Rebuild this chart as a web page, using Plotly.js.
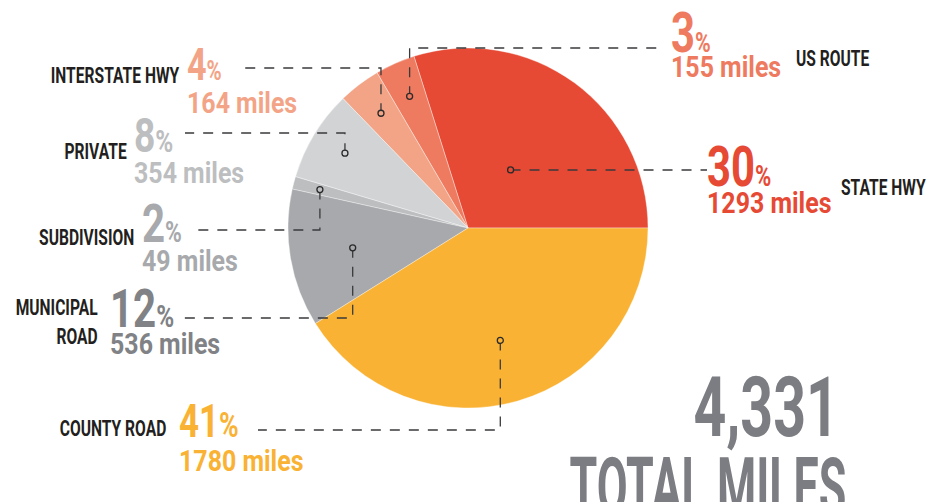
<!DOCTYPE html>
<html><head><meta charset="utf-8">
<script src="https://cdn.plot.ly/plotly-3.0.1.min.js"></script>
<style>html,body{margin:0;padding:0;background:#fff}#chart{width:928px;height:502px}</style>
</head><body><div id="chart"></div>
<script>
// ---- data ----
const categories = ['STATE HWY', 'US ROUTE', 'INTERSTATE HWY', 'PRIVATE', 'SUBDIVISION', 'MUNICIPAL<br>ROAD', 'COUNTY ROAD'];
const miles = [1293, 155, 164, 354, 49, 536, 1780];
const pctLabels = [30, 3, 4, 8, 2, 12, 41];
const totalCaption = 'TOTAL MILES';

// ---- styles ----
const sliceColors = ['#e64a35', '#ee7a5f', '#f3a487', '#d1d3d4', '#bcbec0', '#a7a9ac', '#f9b233'];
const textColors  = ['#e64a35', '#ee7a5f', '#f3a487', '#bcbec0', '#a7a9ac', '#808285', '#f9b233'];
const FONT = 'Roboto, "Liberation Sans", sans-serif';
const W = 928, H = 502, CX = 468, CY = 228, R = 180;
const px = x => x / W, py = y => 1 - y / H;

// label placement (pixels) for each slice, same order as categories
const place = [
  {lx:707, ly:170, f:0.40, tx:708, pctY:167, pctS:55, pS:29, mY:203, catX:842, catY:187, catA:'left'},
  {lx:660, ly:48,  f:0.80, tx:672, pctY:33,  pctS:55, pS:28, mY:67,  catX:797, catY:58,  catA:'left'},
  {lx:237, ly:68,  f:0.80, tx:188, pctY:64,  pctS:45, pS:27, mY:103, catX:178, catY:76,  catA:'right'},
  {lx:185, ly:133, f:0.80, tx:135, pctY:135, pctS:49, pS:32, mY:173, catX:126, catY:152, catA:'right'},
  {lx:193, ly:230, f:0.85, tx:143, pctY:224, pctS:53, pS:30, mY:261, catX:133, catY:237, catA:'right'},
  {lx:183, ly:318, f:0.65, tx:111, pctY:309, pctS:53, pS:32, mY:344, catX:97,  catY:322, catA:'right'},
  {lx:258, ly:430, f:0.65, tx:180, pctY:421, pctS:46, pS:35, mY:461, catX:165, catY:428, catA:'right'}
];

const total = miles.reduce((a, b) => a + b, 0);
const firstDeg = miles[0] / total * 360;

const pie = {
  type: 'pie',
  values: miles,
  labels: categories,
  sort: false,
  direction: 'counterclockwise',
  rotation: 90 - firstDeg,   // first slice begins at 3 o'clock, running counterclockwise
  textinfo: 'none',
  hoverinfo: 'none',
  showlegend: false,
  marker: {colors: sliceColors, line: {color: 'rgba(255,255,255,0.6)', width: 0.6}},
  domain: {x: [px(CX - R), px(CX + R)], y: [py(CY + R), py(CY - R)]}
};

const annotations = [], shapes = [], squeeze = [];
function addAnn(a, s) { annotations.push(a); squeeze.push(s); }
let cum = 0;
miles.forEach((v, i) => {
  const p = place[i];
  const mid = (cum + v / 2) / total * 2 * Math.PI;
  cum += v;
  const dx = CX + p.f * R * Math.cos(mid);
  const dy = CY - p.f * R * Math.sin(mid);
  shapes.push({type: 'path', xref: 'paper', yref: 'paper',
    path: `M ${px(dx)},${py(dy)} L ${px(dx)},${py(p.ly)} L ${px(p.lx)},${py(p.ly)}`,
    line: {color: '#3a3a3c', width: 1.3, dash: '10px,9px'}});
  shapes.push({type: 'circle', xref: 'paper', yref: 'paper', xsizemode: 'pixel', ysizemode: 'pixel',
    xanchor: px(dx), yanchor: py(dy), x0: -3, x1: 3, y0: -3, y1: 3,
    fillcolor: sliceColors[i], line: {color: '#2a2a2a', width: 1.3}});
  addAnn({xref: 'paper', yref: 'paper', x: px(p.tx - 3), y: py(p.pctY), xanchor: 'left', yanchor: 'middle', showarrow: false,
    text: `${pctLabels[i]}<span style="font-size:${p.pS}px">%</span>`,
    font: {family: FONT, size: p.pctS, color: textColors[i], weight: 700}}, 0.76);
  addAnn({xref: 'paper', yref: 'paper', x: px(p.tx - 3), y: py(p.mY), xanchor: 'left', yanchor: 'middle', showarrow: false,
    text: `${miles[i]} miles`,
    font: {family: FONT, size: 29, color: textColors[i], weight: 700}}, 0.86);
  addAnn({xref: 'paper', yref: 'paper', x: px(p.catX + (p.catA === 'right' ? 3 : -3)), y: py(p.catY), xanchor: p.catA, yanchor: 'middle', align: p.catA, showarrow: false,
    text: categories[i],
    font: {family: FONT, size: 22, color: '#231f20', weight: 700}}, 0.71);
});

addAnn({xref: 'paper', yref: 'paper', x: px(841), y: py(407), xanchor: 'right', yanchor: 'middle', showarrow: false,
  text: total.toLocaleString('en-US'), font: {family: FONT, size: 83, color: '#7c7d82', weight: 700}}, 0.69);
addAnn({xref: 'paper', yref: 'paper', x: px(848), y: py(487), xanchor: 'right', yanchor: 'middle', showarrow: false,
  text: totalCaption, font: {family: FONT, size: 80, color: '#7c7d82', weight: 700}}, 0.56);

const layout = {
  width: W, height: H,
  margin: {l: 0, r: 0, t: 0, b: 0},
  paper_bgcolor: '#ffffff', plot_bgcolor: '#ffffff',
  showlegend: false,
  annotations: annotations,
  shapes: shapes
};

Plotly.newPlot('chart', [pie], layout, {displayModeBar: false, staticPlot: true}).then(gd => {
  // condensed lettering: squeeze each annotation horizontally about its anchor edge
  gd.querySelectorAll('g.annotation').forEach(g => {
    const idx = +g.getAttribute('data-index');
    const s = squeeze[idx];
    const t = g.querySelector('text.annotation-text');
    if (!t || !s) return;
    const bb = t.getBBox();
    const anc = annotations[idx].xanchor;
    const ax = anc === 'right' ? bb.x + bb.width : anc === 'center' ? bb.x + bb.width / 2 : bb.x;
    const prev = t.getAttribute('transform') || '';
    t.setAttribute('transform', `${prev} translate(${ax},0) scale(${s},1) translate(${-ax},0)`.trim());
  });
});
</script>
</body></html>
